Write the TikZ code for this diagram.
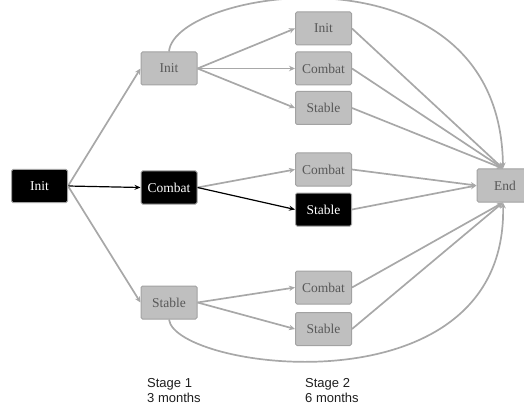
\documentclass[tikz,border=0pt]{standalone}
\usepackage{fontspec}
\setmainfont{Liberation Serif}
\newfontfamily\stagefont{Liberation Sans}
\usetikzlibrary{arrows.meta}
\definecolor{boxfill}{HTML}{BFBFBF}
\definecolor{boxedge}{HTML}{A2A2A2}
\definecolor{boxtext}{HTML}{585858}
\definecolor{linegray}{HTML}{A8A8A8}
\definecolor{stagetext}{HTML}{1E1E1E}
\begin{document}
\begin{tikzpicture}[x=1pt,y=-1pt,
  gbox/.style={draw=boxedge, fill=boxfill, rounded corners=1.5pt, minimum width=56pt, minimum height=33pt, inner sep=0pt, text=boxtext, font=\fontsize{13.5}{15}\selectfont, line width=1pt},
  kbox/.style={gbox, fill=black, text=white},
  gline/.style={draw=linegray, line width=1.7pt, -{Stealth[length=6pt,width=5.5pt]}},
  bline/.style={draw=black, line width=1.2pt, -{Stealth[length=6pt,width=5pt]}},
  stagelabel/.style={anchor=north west, inner sep=0pt, align=left, text=stagetext, font=\stagefont\fontsize{13}{15}\selectfont}]
\useasboundingbox (0,0) rectangle (524,414);
% nodes
\node[kbox] (root) at (39.5,186) {Init};
\node[gbox] (i1) at (169,68.5) {Init};
\node[kbox] (c1) at (169,187.5) {Combat};
\node[gbox] (s1) at (169,302.5) {Stable};
\node[gbox] (i2) at (323.5,28.5) {Init};
\node[gbox] (c2a) at (323.5,68.5) {Combat};
\node[gbox] (s2a) at (323.5,108) {Stable};
\node[gbox] (c2b) at (323.5,169.5) {Combat};
\node[kbox] (s2b) at (323.5,209.5) {Stable};
\node[gbox] (c2c) at (323.5,287.5) {Combat};
\node[gbox] (s2c) at (323.5,329) {Stable};
\node[gbox] (end) at (505,185.5) {End};
% stage 1 edges
\draw[gline] (root.east) -- (i1.west);
\draw[bline] (root.east) -- (c1.west);
\draw[gline] (root.east) -- (s1.west);
% stage 2 edges
\draw[gline] (i1.east) -- (i2.west);
\draw[gline] (i1.east) -- (c2a.west);
\draw[gline] (i1.east) -- (s2a.west);
\draw[gline] (c1.east) -- (c2b.west);
\draw[bline] (c1.east) -- (s2b.west);
\draw[gline] (s1.east) -- (c2c.west);
\draw[gline] (s1.east) -- (s2c.west);
% to end
\draw[gline] (i2.east) -- ([xshift=-2pt]end.north);
\draw[gline] (c2a.east) -- ([xshift=-2pt]end.north);
\draw[gline] (s2a.east) -- ([xshift=-2pt]end.north);
\draw[gline] (c2b.east) -- (end.west);
\draw[gline] (s2b.east) -- (end.west);
\draw[gline] (c2c.east) -- ([xshift=-2pt]end.south);
\draw[gline] (s2c.east) -- ([xshift=-2pt]end.south);
% curved skips
\draw[gline] (i1.north) .. controls (175,-12) and (500,-62) .. ([xshift=-2pt]end.north);
\draw[gline] (s1.south) .. controls (175,370) and (508,415) .. ([xshift=-2pt]end.south);
% stage labels
\node[stagelabel] (st1) at (147,378) {Stage 1\\3 months};
\node[stagelabel] (st2) at (305,378) {Stage 2\\6 months};
\end{tikzpicture}
\end{document}
